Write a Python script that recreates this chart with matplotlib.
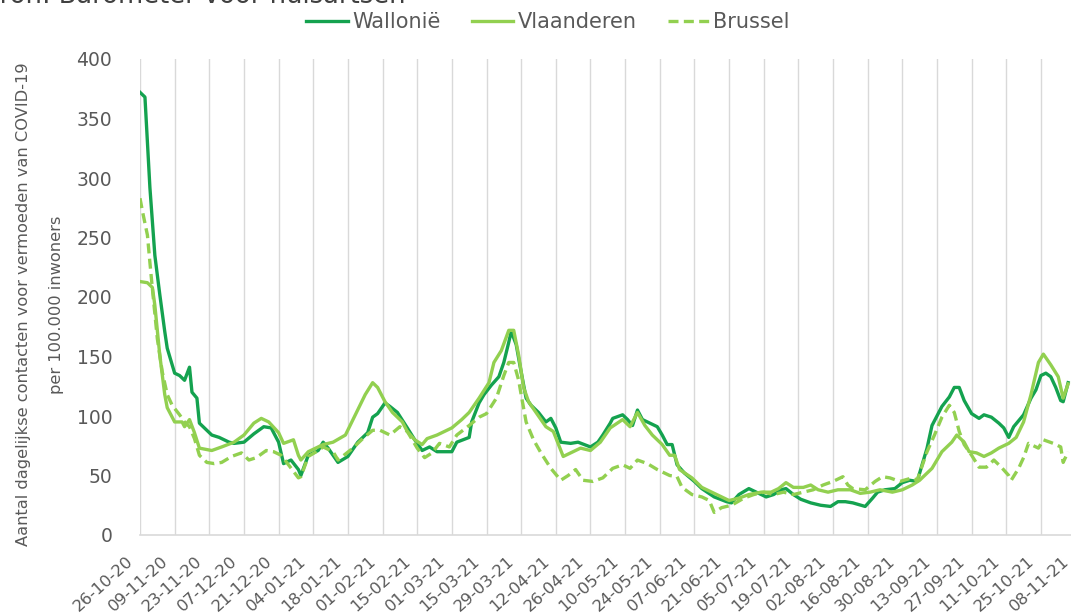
import matplotlib
matplotlib.use('Agg')
import matplotlib.pyplot as plt
import matplotlib.transforms as mtransforms
import numpy as np

# ---------------- data ----------------
tick_labels = ['26-10-20', '09-11-20', '23-11-20', '07-12-20', '21-12-20', '04-01-21',
               '18-01-21', '01-02-21', '15-02-21', '01-03-21', '15-03-21', '29-03-21',
               '12-04-21', '26-04-21', '10-05-21', '24-05-21', '07-06-21', '21-06-21',
               '05-07-21', '19-07-21', '02-08-21', '16-08-21', '30-08-21', '13-09-21',
               '27-09-21', '11-10-21', '25-10-21', '08-11-21']

# days since 26-10-2020
wal_days = [0, 2, 4, 6, 8, 10, 11, 14, 16, 18, 20, 21, 23, 24, 29, 32, 36, 38, 42, 46, 50, 53,
            56, 58, 61, 64, 65, 68, 72, 74, 76, 80, 84, 88, 92, 94, 96, 99, 101, 104, 108, 111,
            114, 117, 120, 126, 128, 133, 134, 137, 139, 142, 145, 147, 149, 150, 152, 154, 156,
            158, 161, 164, 166, 168, 170, 174, 177, 182, 185, 187, 190, 191, 195, 197, 199, 201,
            203, 206, 209, 211, 213, 215, 217, 220, 224, 227, 232, 237, 239, 242, 246, 249, 253,
            256, 259, 261, 264, 267, 271, 275, 279, 282, 285, 288, 293, 296, 298, 301, 305, 308,
            311, 314, 318, 320, 324, 327, 329, 331, 333, 336, 339, 341, 344, 347, 349, 351, 353,
            357, 360, 362, 364, 366, 368, 370, 372, 373, 375]
wal_vals = [372, 368, 292, 235, 202, 171, 157, 136, 134, 130, 141, 120, 115, 94, 84, 82, 78, 77,
            78, 85, 91, 90, 78, 60, 63, 55, 50, 67, 71, 78, 73, 61, 66, 78, 86, 99, 102, 111, 108,
            103, 90, 80, 71, 74, 70, 70, 78, 82, 95, 111, 118, 126, 133, 145, 162, 171, 160, 137,
            115, 109, 103, 95, 98, 90, 78, 77, 78, 74, 78, 84, 94, 98, 101, 97, 92, 105, 97, 94,
            91, 84, 76, 76, 59, 52, 45, 39, 32, 28, 27, 34, 39, 36, 32, 34, 38, 39, 34, 30, 27,
            25, 24, 28, 28, 27, 24, 31, 36, 38, 39, 44, 46, 45, 73, 92, 108, 116, 124, 124, 113,
            102, 98, 101, 99, 94, 90, 82, 91, 101, 115, 122, 134, 136, 133, 124, 113, 112, 128]

vla_days = [0, 3, 5, 6, 8, 10, 11, 14, 17, 18, 20, 22, 24, 29, 33, 38, 42, 46, 49, 52, 56, 58,
            62, 64, 65, 68, 72, 74, 78, 83, 87, 91, 94, 96, 99, 102, 106, 108, 111, 114, 116, 120,
            123, 126, 130, 133, 137, 141, 143, 146, 149, 151, 153, 155, 157, 160, 164, 167, 171,
            174, 178, 182, 186, 189, 190, 195, 198, 201, 204, 207, 211, 214, 216, 218, 223, 227,
            233, 238, 242, 246, 251, 255, 258, 261, 264, 268, 271, 274, 278, 282, 287, 291, 295,
            299, 304, 308, 312, 315, 320, 324, 328, 330, 333, 335, 338, 341, 344, 347, 351, 354,
            357, 360, 363, 365, 368, 371, 373, 375]
vla_vals = [213, 212, 208, 193, 151, 118, 107, 95, 95, 91, 97, 86, 73, 71, 74, 78, 84, 94, 98, 95,
            86, 77, 80, 67, 63, 70, 74, 76, 78, 84, 101, 118, 128, 124, 112, 103, 95, 87, 80, 76,
            81, 84, 87, 90, 97, 103, 115, 128, 145, 155, 172, 172, 151, 124, 112, 103, 91, 87, 66,
            69, 73, 71, 78, 87, 90, 97, 91, 103, 92, 84, 76, 67, 67, 55, 48, 40, 34, 29, 31, 34,
            36, 36, 39, 44, 40, 40, 42, 38, 36, 38, 38, 35, 36, 38, 36, 38, 42, 46, 56, 70, 78, 84,
            78, 70, 69, 66, 69, 73, 77, 82, 95, 118, 145, 152, 143, 133, 115, 127]

bru_days = [0, 1, 3, 4, 5, 7, 9, 11, 13, 16, 18, 20, 22, 24, 27, 30, 33, 37, 41, 44, 47, 51, 54,
            57, 60, 64, 65, 68, 72, 74, 78, 80, 86, 90, 94, 97, 101, 105, 108, 112, 115, 118, 121,
            125, 128, 133, 137, 140, 144, 147, 149, 151, 153, 154, 156, 159, 162, 166, 170, 173,
            176, 179, 183, 187, 191, 195, 198, 201, 205, 209, 214, 217, 219, 223, 227, 230, 232,
            235, 239, 244, 248, 252, 256, 260, 264, 268, 272, 276, 280, 284, 286, 288, 293, 297,
            300, 303, 307, 312, 314, 318, 321, 324, 327, 329, 331, 333, 336, 339, 342, 345, 348,
            351, 352, 355, 357, 359, 363, 365, 369, 372, 373, 375]
bru_vals = [283, 272, 252, 229, 207, 165, 137, 118, 109, 101, 95, 91, 81, 67, 61, 60, 61, 66, 69,
            63, 65, 71, 70, 67, 59, 48, 49, 66, 71, 74, 70, 63, 73, 81, 88, 88, 84, 91, 87, 73,
            65, 69, 77, 74, 84, 92, 99, 102, 115, 134, 145, 145, 130, 118, 95, 80, 69, 56, 46,
            50, 55, 46, 45, 48, 56, 59, 56, 63, 60, 55, 50, 49, 40, 34, 32, 29, 19, 23, 25, 31,
            34, 36, 34, 36, 34, 36, 38, 42, 45, 49, 42, 39, 38, 45, 49, 48, 45, 48, 46, 70, 84,
            99, 109, 103, 87, 76, 67, 57, 57, 63, 57, 50, 46, 56, 65, 77, 73, 80, 77, 74, 61, 70]

series_names = ['Wallonië', 'Vlaanderen', 'Brussel']
title_text = 'Bron: Barometer voor huisartsen'
ylabel_lines = ['Aantal dagelijkse contacten voor vermoeden van COVID-19', 'per 100.000 inwoners']

# ---------------- style ----------------
DARK = '#14A24F'
LIGHT = '#92D050'
GRID = '#D9D9D9'
TXT = '#595959'

W, H = 1071, 615
fig = plt.figure(figsize=(W / 100, H / 100), dpi=100)
fig.patch.set_facecolor('white')

x_max = 385
x0_px, px_per_day = 140, 34.65 / 14
ax = fig.add_axes([x0_px / W, 1 - 535 / H, (x_max * px_per_day) / W, (535 - 59) / H])

lw = 2.4
l1, = ax.plot(wal_days, wal_vals, color=DARK, lw=lw, solid_joinstyle='round', zorder=3)
l2, = ax.plot(vla_days, vla_vals, color=LIGHT, lw=lw, solid_joinstyle='round', zorder=4)
l3, = ax.plot(bru_days, bru_vals, color=LIGHT, lw=lw, linestyle=(0, (3.0, 1.6)), zorder=5)

ax.set_xlim(0, x_max)
ax.set_ylim(0, 400)
ax.set_yticks(np.arange(0, 401, 50))
ax.set_xticks(np.arange(len(tick_labels)) * 14)
ax.set_xticklabels(tick_labels, rotation=42, ha='right', va='center',
                   rotation_mode='anchor', fontsize=11.8, color=TXT)
ax.tick_params(axis='x', length=0, pad=0)
ax.tick_params(axis='y', length=0, pad=20, labelsize=13.5, labelcolor=TXT)
offset = mtransforms.ScaledTranslation(-9 / 100, -24 / 100, fig.dpi_scale_trans)
for lab in ax.get_xticklabels():
    lab.set_transform(lab.get_transform() + offset)

for s in ['top', 'right', 'left']:
    ax.spines[s].set_visible(False)
ax.spines['bottom'].set_color(GRID)
ax.spines['bottom'].set_linewidth(1.2)
ax.grid(axis='x', color=GRID, lw=1.0)
ax.grid(axis='y', visible=False)
ax.set_axisbelow(True)

# y label (two lines), sized to span like the reference
t1 = fig.text(24 / W, 1 - 304 / H, ylabel_lines[0], rotation=90, ha='center', va='center',
              fontsize=12, color=TXT)
t2 = fig.text(57 / W, 1 - 305 / H, ylabel_lines[1], rotation=90, ha='center', va='center',
              fontsize=12, color=TXT)
renderer = fig.canvas.get_renderer()
h1 = t1.get_window_extent(renderer).height
fs = 12 * 482 / h1
t1.set_fontsize(fs)
t2.set_fontsize(fs)

# title (cut at top)
fig.text(-18 / W, 1 - 3 / H, title_text, ha='left', va='baseline', fontsize=18.5, color='#404040')

# legend
leg = fig.legend([l1, l2, l3], series_names, loc='center', bbox_to_anchor=(548 / W, 1 - 22 / H),
                 ncol=3, frameon=False, fontsize=15, handlelength=2.0, handletextpad=0.2,
                 columnspacing=1.5, borderaxespad=0, borderpad=0)
for t in leg.get_texts():
    t.set_color(TXT)

fig.savefig('out.png', dpi=100, facecolor='white')
